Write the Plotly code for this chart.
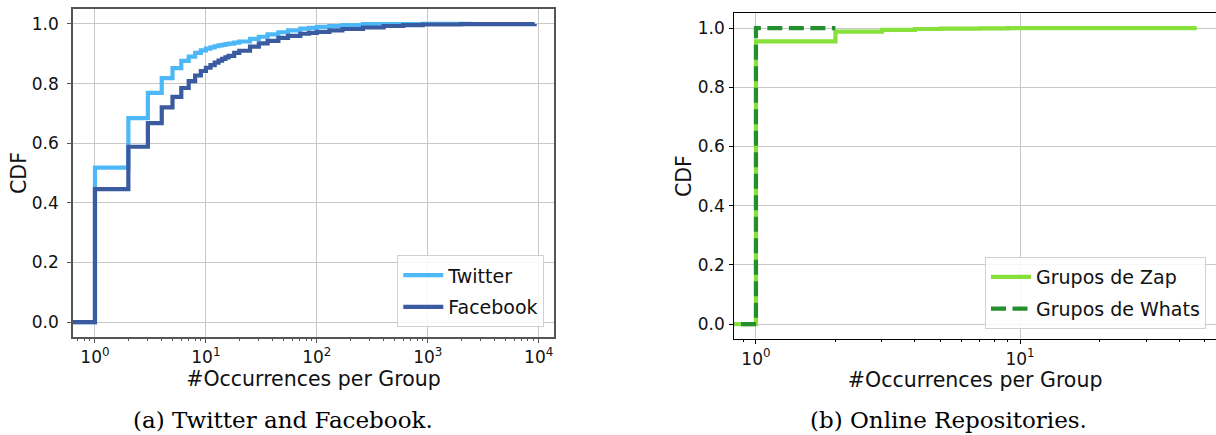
import plotly.graph_objects as go

# ---------------- data ----------------
tw_x = [0.5, 1, 2, 3, 4, 5, 6, 7, 8, 9, 10, 11, 12, 13, 14, 15, 16, 18, 20, 25, 30, 36, 45, 55,
        71, 85, 100, 130, 170, 260, 400, 900, 2500]
tw_y = [0.0, 0.518, 0.684, 0.769, 0.818, 0.852, 0.876, 0.890, 0.903, 0.911, 0.917, 0.921, 0.925,
        0.928, 0.930, 0.932, 0.934, 0.937, 0.941, 0.950, 0.957, 0.965, 0.972, 0.978, 0.984, 0.987,
        0.990, 0.993, 0.996, 0.999, 0.9995, 1.0, 1.0]

fb_x = [0.5, 1, 2, 3, 4, 5, 6, 7, 8, 9, 10, 11, 12, 13, 14, 15, 16, 18, 20, 25, 30, 36, 45, 55,
        71, 85, 100, 130, 170, 260, 400, 600, 900, 2000, 9200]
fb_y = [0.0, 0.446, 0.588, 0.667, 0.720, 0.755, 0.785, 0.808, 0.827, 0.842, 0.853, 0.862, 0.870,
        0.877, 0.883, 0.888, 0.893, 0.903, 0.910, 0.924, 0.935, 0.943, 0.953, 0.960, 0.967, 0.970,
        0.973, 0.978, 0.983, 0.988, 0.993, 0.996, 0.998, 0.9995, 1.0]

zap_x = [0.5, 1, 2, 3, 4, 5, 7, 9, 46.7]
zap_y = [0.0, 0.955, 0.988, 0.994, 0.997, 0.998, 0.999, 1.0, 1.0]

whats_x = [0.5, 1, 2]
whats_y = [0.0, 1.0, 1.0]

left_tickvals = [1, 10, 100, 1000, 10000]
left_ticktext = ["10<sup>0</sup>", "10<sup>1</sup>", "10<sup>2</sup>", "10<sup>3</sup>", "10<sup>4</sup>"]
right_tickvals = [1, 10]
right_ticktext = ["10<sup>0</sup>", "10<sup>1</sup>"]
y_tickvals = [0.0, 0.2, 0.4, 0.6, 0.8, 1.0]

labels = ["Twitter", "Facebook", "Grupos de Zap", "Grupos de Whats"]
x_title = "#Occurrences per Group"
y_title = "CDF"
captions = ["(a) Twitter and Facebook.", "(b) Online Repositories."]

# ---------------- styling ----------------
W, H = 1216, 435
TW_C = "#4db8f8"
FB_C = "#3a5ba0"
ZAP_C = "#88e03a"
WH_C = "#23902d"
SANS = "DejaVu Sans"
SERIF = "DejaVu Serif"

minor_left = [m * 10 ** e for e in range(-1, 4) for m in range(2, 10)]
minor_right = [m * 10 ** e for e in range(-1, 2) for m in range(2, 10)]


def fx(p):
    return p / W


def fy(p):
    return 1 - p / H


fig = go.Figure()
fig.add_trace(go.Scatter(x=tw_x, y=tw_y, mode="lines", name=labels[0],
                         line=dict(color=TW_C, width=4.2, shape="hv"),
                         xaxis="x", yaxis="y", legend="legend", legendgroup="a"))
fig.add_trace(go.Scatter(x=fb_x, y=fb_y, mode="lines", name=labels[1],
                         line=dict(color=FB_C, width=4.2, shape="hv"),
                         xaxis="x", yaxis="y", legend="legend", legendgroup="b"))
fig.add_trace(go.Scatter(x=zap_x, y=zap_y, mode="lines", name=labels[2],
                         line=dict(color=ZAP_C, width=4.2, shape="hv"),
                         xaxis="x2", yaxis="y2", legend="legend2", legendgroup="c"))
fig.add_trace(go.Scatter(x=whats_x, y=whats_y, mode="lines", name=labels[3],
                         line=dict(color=WH_C, width=4.2, shape="hv", dash="15px,6.5px"),
                         xaxis="x2", yaxis="y2", legend="legend2", legendgroup="d"))

tickfont = dict(family=SANS, size=17, color="#111")
titlefont = dict(family=SANS, size=20.5, color="#111")
GRID = "#c8c8c8"

common_x = dict(type="log", showgrid=True, gridcolor=GRID, gridwidth=1, zeroline=False,
                ticks="outside", ticklen=4, tickfont=tickfont, tickmode="array",
                title=dict(text=x_title, font=titlefont, standoff=5))
common_y = dict(range=[-0.05, 1.05], tickmode="array", tickvals=y_tickvals, tickformat=".1f",
                showgrid=True, gridcolor=GRID, gridwidth=1, zeroline=False,
                ticks="outside", ticklen=4, tickfont=tickfont,
                title=dict(text=y_title, font=titlefont, standoff=0))

fig.update_layout(
    width=W, height=H, margin=dict(l=0, r=0, t=0, b=0),
    paper_bgcolor="white", plot_bgcolor="white",
    xaxis=dict(common_x, domain=[fx(73), fx(554)], range=[-0.198, 4.138], anchor="y",
               tickvals=left_tickvals, ticktext=left_ticktext,
               showline=True, linecolor="#555", linewidth=1.5, mirror=True, tickcolor="#555",
               minor=dict(tickmode="array", tickvals=minor_left, ticks="outside", ticklen=2,
                          tickcolor="#555", showgrid=False)),
    yaxis=dict(common_y, domain=[fy(337), fy(9)], anchor="x",
               showline=True, linecolor="#555", linewidth=1.5, mirror=True, tickcolor="#555",
               ticklabelstandoff=5),
    xaxis2=dict(common_x, domain=[fx(734.3), 1.0], range=[-0.082, 1.742], anchor="y2",
                tickvals=right_tickvals, ticktext=right_ticktext,
                showline=True, linecolor="#000", linewidth=1.2, mirror=True, tickcolor="#000",
                minor=dict(tickmode="array", tickvals=minor_right, ticks="outside", ticklen=2,
                           tickcolor="#000", showgrid=False)),
    yaxis2=dict(common_y, domain=[fy(339), fy(13.3)], anchor="x2",
                showline=True, linecolor="#000", linewidth=1.2, mirror=False, tickcolor="#000",
                ticklabelstandoff=1),
    legend=dict(x=fx(544.3), y=fy(327.3), xanchor="right", yanchor="bottom",
                bgcolor="rgba(255,255,255,0.85)", bordercolor="#d0d0d0", borderwidth=1,
                font=dict(family=SANS, size=19, color="#111"), tracegroupgap=4,
                itemwidth=40),
    legend2=dict(x=fx(1206), y=fy(329), xanchor="right", yanchor="bottom",
                 bgcolor="rgba(255,255,255,0.85)", bordercolor="#d0d0d0", borderwidth=1,
                 font=dict(family=SANS, size=19, color="#111"), tracegroupgap=4,
                 itemwidth=40),
    showlegend=True,
)

for cx, txt in zip([282.5, 948], captions):
    fig.add_annotation(text=txt, x=fx(cx), y=fy(420), xref="paper", yref="paper",
                       xanchor="center", yanchor="middle", showarrow=False,
                       font=dict(family=SERIF, size=23, color="#000"))

fig.write_html("out.html", config={"displayModeBar": False},
               post_script="document.body.style.margin='0';document.body.style.overflow='hidden';")
